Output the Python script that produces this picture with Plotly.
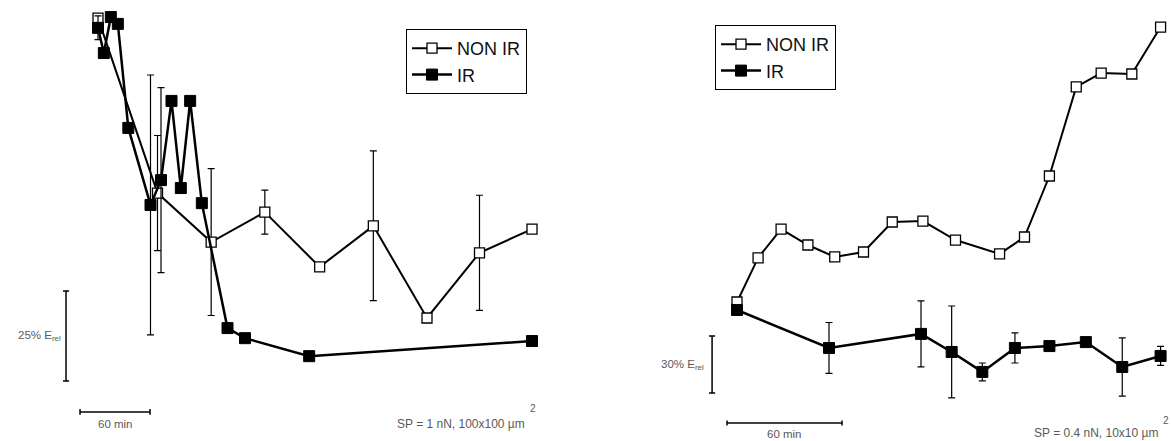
import plotly.graph_objects as go

# ---------------- Left panel (SP = 1 nN, 100x100 µm²) ----------------
# time in minutes, value in % E_rel (relative scale, scale bar = 25 %)
L_non_t = [0, 51, 97, 143, 190, 236, 282, 327, 372]
L_non_v = [100.8, 52.2, 38.6, 46.9, 31.7, 43.1, 17.5, 35.6, 42.2]
L_non_e = [0, 16.0, 20.4, 6.1, 1.1, 20.8, 1.1, 16.0, 0]

L_ir_t = [0, 5, 11, 17, 26, 45, 54, 63, 71, 79, 89, 111, 126, 181, 372]
L_ir_v = [98.1, 91.1, 101.1, 99.2, 70.3, 48.9, 55.8, 77.8, 53.6, 77.8, 49.4, 14.7, 11.9, 6.9, 11.1]
L_ir_e = [3.3, 0, 0, 0, 0, 36.1, 25.7, 0, 0, 0, 0, 0, 0, 0, 0]

# ---------------- Right panel (SP = 0.4 nN, 10x10 µm²) ----------------
R_non_t = [0, 11, 23, 37, 51, 66, 81, 97, 114, 137, 150, 163, 177, 190, 206, 221]
R_non_v = [47.9, 71.1, 86.3, 77.9, 71.6, 74.2, 90.0, 90.5, 80.5, 73.2, 82.1, 114.2, 161.1, 168.4, 167.9, 192.6]

R_ir_t = [0, 48, 96, 112, 128, 145, 163, 182, 201, 221]
R_ir_v = [43.7, 23.7, 31.1, 21.6, 11.1, 23.7, 24.7, 26.8, 13.7, 19.5]
R_ir_e = [0, 13.4, 17.4, 24.2, 4.7, 7.9, 0, 0, 15.3, 5.0]

series_names = ["NON IR", "IR"]
left_note = "SP = 1 nN, 100x100 µm"
right_note = "SP = 0.4 nN, 10x10 µm"
left_scale = [25, 60]   # % E_rel, minutes
right_scale = [30, 60]

W, H = 1171, 441
SPLIT_PX = 600
split = SPLIT_PX / W
FONT = "Liberation Sans, Arial, sans-serif"

def px(xp):   # window x pixel -> paper fraction
    return xp / W
def py(yp):   # window y pixel -> paper fraction
    return 1 - yp / H

open_marker = dict(symbol="square", size=10, color="white", line=dict(color="black", width=1.3))
fill_marker = dict(symbol="square", size=11, color="black", line=dict(color="black", width=1))
err = lambda arr: dict(type="data", array=arr, visible=True, color="black", thickness=1.2, width=3.5)

fig = go.Figure()
fig.add_trace(go.Scatter(x=L_non_t, y=L_non_v, mode="lines+markers", name=series_names[0],
                         line=dict(color="black", width=2), marker=open_marker,
                         error_y=err(L_non_e), xaxis="x", yaxis="y", legend="legend", cliponaxis=False))
fig.add_trace(go.Scatter(x=L_ir_t, y=L_ir_v, mode="lines+markers", name=series_names[1],
                         line=dict(color="black", width=2.5), marker=fill_marker,
                         error_y=err(L_ir_e), xaxis="x", yaxis="y", legend="legend", cliponaxis=False))
fig.add_trace(go.Scatter(x=R_non_t, y=R_non_v, mode="lines+markers", name=series_names[0],
                         line=dict(color="black", width=2), marker=open_marker,
                         xaxis="x2", yaxis="y2", legend="legend2", cliponaxis=False))
fig.add_trace(go.Scatter(x=R_ir_t, y=R_ir_v, mode="lines+markers", name=series_names[1],
                         line=dict(color="black", width=2.5), marker=fill_marker,
                         error_y=err(R_ir_e), xaxis="x2", yaxis="y2", legend="legend2", cliponaxis=False))

# axis ranges chosen so both panels sit like the original figure (axes hidden)
# left: 60 min = 70 px, 25 % = 90 px ; origin at pixel (98, 381)
lx0 = -98 * 60 / 70
lx1 = (SPLIT_PX - 98) * 60 / 70
ly0 = (381 - H) * 25 / 90
ly1 = 381 * 25 / 90
# right: 60 min = 115 px, 30 % = 57 px ; origin at pixel (737, 393)
rx0 = (SPLIT_PX - 737) * 60 / 115
rx1 = (W - 737) * 60 / 115
ry0 = (393 - H) * 30 / 57
ry1 = 393 * 30 / 57

hidden = dict(visible=False, showgrid=False, zeroline=False, fixedrange=True)
legend_style = dict(xanchor="left", yanchor="top", bordercolor="black", borderwidth=1,
                    bgcolor="white", font=dict(size=18, family=FONT, color="#111"),
                    itemwidth=40, tracegroupgap=0)
fig.update_layout(
    width=W, height=H, margin=dict(l=0, r=0, t=0, b=0),
    paper_bgcolor="white", plot_bgcolor="white",
    font=dict(family=FONT, color="black"),
    xaxis=dict(domain=[0, split], range=[lx0, lx1], **hidden),
    yaxis=dict(domain=[0, 1], range=[ly0, ly1], **hidden),
    xaxis2=dict(domain=[split, 1], range=[rx0, rx1], anchor="y2", **hidden),
    yaxis2=dict(domain=[0, 1], range=[ry0, ry1], anchor="x2", **hidden),
    legend=dict(x=px(406), y=py(29), **legend_style),
    legend2=dict(x=px(715), y=py(25), **legend_style),
    showlegend=True,
)

shapes = []
def seg(xr, yr, x0, y0, x1, y1, w=1.5):
    shapes.append(dict(type="line", xref=xr, yref=yr, x0=x0, y0=y0, x1=x1, y1=y1,
                       line=dict(color="black", width=w)))

# Left scale bars
vx = -27.4
seg("x", "y", vx, 0, vx, left_scale[0])
seg("x", "y", vx - 2.6, 0, vx + 2.6, 0)
seg("x", "y", vx - 2.6, left_scale[0], vx + 2.6, left_scale[0])
hy = -8.6
hx0 = -15.4
seg("x", "y", hx0, hy, hx0 + left_scale[1], hy)
seg("x", "y", hx0, hy - 0.8, hx0, hy + 0.8)
seg("x", "y", hx0 + left_scale[1], hy - 0.8, hx0 + left_scale[1], hy + 0.8)

# Right scale bars
vx2 = -13.0
seg("x2", "y2", vx2, 0, vx2, right_scale[0])
seg("x2", "y2", vx2 - 1.6, 0, vx2 + 1.6, 0)
seg("x2", "y2", vx2 - 1.6, right_scale[0], vx2 + 1.6, right_scale[0])
hy2 = -15.8
hx02 = -5.2
seg("x2", "y2", hx02, hy2, hx02 + right_scale[1], hy2)
seg("x2", "y2", hx02, hy2 - 1.3, hx02, hy2 + 1.3)
seg("x2", "y2", hx02 + right_scale[1], hy2 - 1.3, hx02 + right_scale[1], hy2 + 1.3)
fig.update_layout(shapes=shapes)

grey = "#5a5a5a"
ann = [
    dict(xref="x", yref="y", x=vx - 3.0, y=left_scale[0] / 2, xanchor="right", yanchor="middle",
         text=f"{left_scale[0]}% E<sub>rel</sub>", showarrow=False, font=dict(size=11.5, color=grey)),
    dict(xref="x", yref="y", x=hx0 + left_scale[1] / 2, y=hy - 1.0, xanchor="center", yanchor="top",
         text=f"{left_scale[1]} min", showarrow=False, font=dict(size=11.5, color=grey)),
    dict(xref="x2", yref="y2", x=vx2 - 3.0, y=right_scale[0] / 2, xanchor="right", yanchor="middle",
         text=f"{right_scale[0]}% E<sub>rel</sub>", showarrow=False, font=dict(size=11.5, color=grey)),
    dict(xref="x2", yref="y2", x=hx02 + right_scale[1] / 2, y=hy2 - 1.6, xanchor="center", yanchor="top",
         text=f"{right_scale[1]} min", showarrow=False, font=dict(size=11.5, color=grey)),
    dict(xref="paper", yref="paper", x=px(527), y=py(424), xanchor="right", yanchor="middle",
         text=left_note, showarrow=False, font=dict(size=12, color=grey)),
    dict(xref="paper", yref="paper", x=px(528), y=py(408), xanchor="left", yanchor="middle",
         text="2", showarrow=False, font=dict(size=10, color=grey)),
    dict(xref="paper", yref="paper", x=px(1160), y=py(433), xanchor="right", yanchor="middle",
         text=right_note, showarrow=False, font=dict(size=12, color=grey)),
    dict(xref="paper", yref="paper", x=px(1161), y=py(420), xanchor="left", yanchor="middle",
         text="2", showarrow=False, font=dict(size=10, color=grey)),
]
fig.update_layout(annotations=ann)

# the page's default 8 px body margin would shift and crop the fixed-size figure
fig.write_html("out.html", config={"displayModeBar": False},
               post_script="document.body.style.margin='0';document.body.style.overflow='hidden';")
